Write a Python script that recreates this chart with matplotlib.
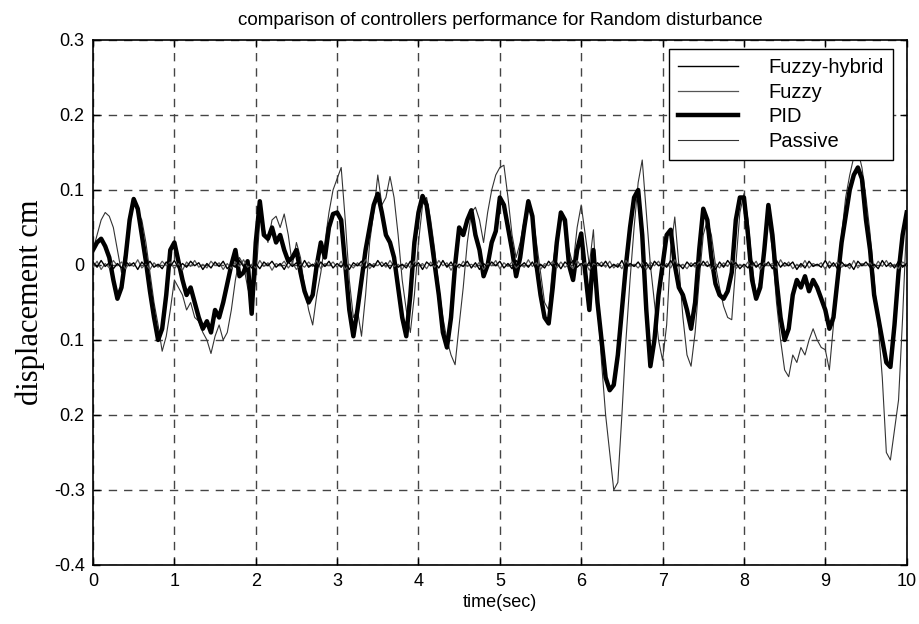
import matplotlib
matplotlib.use('Agg')
import matplotlib.pyplot as plt
import numpy as np

# sample times (s), one every 0.05 s
time = np.linspace(0, 10, 201)

pid = [
    0.02, 0.03, 0.035, 0.025, 0.01, -0.02, -0.045, -0.03, 0.01, 0.06,
    0.088, 0.075, 0.04, 0.005, -0.035, -0.07, -0.1, -0.085, -0.04, 0.02,
    0.03, 0.005, -0.02, -0.04, -0.03, -0.05, -0.07, -0.085, -0.075, -0.09,
    -0.06, -0.07, -0.05, -0.025, 0.0, 0.02, -0.015, -0.01, 0.005, -0.065,
    0.03, 0.085, 0.04, 0.035, 0.05, 0.03, 0.04, 0.02, 0.005, 0.01,
    0.02, -0.01, -0.035, -0.05, -0.04, 0.0, 0.03, 0.01, 0.05, 0.068,
    0.07, 0.06, 0.0, -0.06, -0.095, -0.06, -0.02, 0.02, 0.05, 0.08,
    0.095, 0.07, 0.04, 0.03, 0.01, -0.03, -0.07, -0.095, -0.04, 0.03,
    0.07, 0.092, 0.08, 0.04, 0.0, -0.04, -0.09, -0.11, -0.07, 0.0,
    0.05, 0.04, 0.06, 0.073, 0.04, 0.02, -0.015, 0.0, 0.03, 0.045,
    0.09, 0.08, 0.05, 0.02, -0.015, 0.01, 0.05, 0.085, 0.065, 0.0,
    -0.04, -0.07, -0.078, -0.03, 0.03, 0.07, 0.06, 0.0, -0.02, 0.02,
    0.042, -0.01, -0.06, 0.02, -0.05, -0.1, -0.15, -0.167, -0.16, -0.12,
    -0.06, 0.0, 0.05, 0.09, 0.1, 0.04, -0.06, -0.135, -0.1, -0.04,
    0.0, 0.04, 0.047, 0.0, -0.03, -0.04, -0.06, -0.085, -0.05, 0.02,
    0.075, 0.06, 0.01, -0.025, -0.04, -0.045, -0.035, -0.01, 0.06, 0.09,
    0.09, 0.04, -0.02, -0.045, -0.03, 0.02, 0.08, 0.04, -0.02, -0.07,
    -0.1, -0.085, -0.04, -0.02, -0.03, -0.015, -0.035, -0.02, -0.03, -0.045,
    -0.06, -0.085, -0.07, -0.02, 0.03, 0.065, 0.1, 0.12, 0.13, 0.115,
    0.06, 0.02, -0.04, -0.07, -0.1, -0.13, -0.136, -0.08, -0.01, 0.04,
    0.07,
]

passive = [
    0.02, 0.04, 0.06, 0.07, 0.065, 0.05, 0.02, -0.01, 0.02, 0.05,
    0.085, 0.07, 0.06, 0.03, -0.01, -0.05, -0.08, -0.115, -0.095, -0.06,
    -0.02, -0.03, -0.04, -0.06, -0.05, -0.07, -0.075, -0.09, -0.1, -0.118,
    -0.095, -0.08, -0.1, -0.09, -0.06, -0.02, 0.01, 0.0, -0.03, -0.05,
    -0.02, 0.06, 0.05, 0.03, 0.06, 0.065, 0.05, 0.068, 0.04, 0.0,
    0.03, 0.01, -0.03, -0.06, -0.08, -0.04, -0.01, 0.03, 0.07, 0.1,
    0.115, 0.13, 0.06, -0.02, -0.07, -0.06, -0.095, -0.04, 0.03, 0.07,
    0.12, 0.08, 0.09, 0.118, 0.09, 0.04, -0.02, -0.06, -0.09, -0.04,
    0.03, 0.08, 0.09, 0.06, 0.02, -0.03, -0.07, -0.1, -0.12, -0.133,
    -0.08, -0.03, 0.03, 0.07, 0.077, 0.06, 0.03, 0.07, 0.1, 0.12,
    0.13, 0.133, 0.09, 0.04, 0.01, 0.03, 0.06, 0.087, 0.07, 0.03,
    -0.01, -0.05, -0.06, 0.0, 0.04, 0.07, 0.05, 0.02, 0.0, 0.05,
    0.08, 0.04, 0.0, 0.047, -0.05, -0.13, -0.2, -0.25, -0.3, -0.29,
    -0.2, -0.1, -0.02, 0.05, 0.11, 0.14, 0.07, 0.0, -0.05, -0.1,
    -0.127, -0.08, 0.02, 0.064, 0.0, -0.07, -0.12, -0.135, -0.09, -0.02,
    0.04, 0.06, 0.04, 0.0, -0.03, -0.055, -0.07, -0.073, 0.0, 0.07,
    0.095, 0.06, 0.0, -0.04, -0.02, 0.03, 0.06, 0.02, -0.05, -0.1,
    -0.14, -0.149, -0.12, -0.13, -0.11, -0.12, -0.1, -0.085, -0.1, -0.11,
    -0.113, -0.14, -0.08, -0.02, 0.04, 0.09, 0.12, 0.144, 0.153, 0.13,
    0.09, 0.042, -0.02, -0.08, -0.15, -0.25, -0.26, -0.22, -0.18, -0.07,
    0.06,
]

fuzzy_hybrid = [
    0.004, -0.003, 0.006, -0.002, 0.003, -0.005, 0.002, -0.004, 0.005, -0.001,
    0.003, -0.006, 0.004, -0.002, 0.005, -0.003, 0.001, -0.005, 0.004, -0.002,
    0.006, -0.004, 0.002, -0.003, 0.005, -0.001, 0.003, -0.006, 0.002, -0.004,
    0.004, -0.002, 0.005, -0.005, 0.001, -0.003, 0.006, -0.002, 0.003, -0.004,
    0.002, -0.005, 0.004, -0.001, 0.005, -0.003, 0.002, -0.006, 0.004, -0.002,
    0.003, -0.004, 0.006, -0.003, 0.001, -0.005, 0.004, -0.002, 0.005, -0.004,
    0.002, -0.003, 0.004, -0.006, 0.003, -0.001, 0.005, -0.004, 0.002, -0.003,
    0.006, -0.002, 0.003, -0.005, 0.004, -0.003, 0.001, -0.004, 0.005, -0.002,
    0.003, -0.006, 0.004, -0.001, 0.002, -0.004, 0.006, -0.003, 0.004, -0.005,
    0.001, -0.002, 0.005, -0.004, 0.003, -0.006, 0.002, -0.003, 0.004, -0.001,
    0.005, -0.004, 0.002, -0.005, 0.006, -0.002, 0.003, -0.003, 0.004, -0.006,
    0.001, -0.004, 0.005, -0.002, 0.003, -0.005, 0.004, -0.001, 0.006, -0.003,
    0.002, -0.004, 0.004, -0.006, 0.003, -0.002, 0.005, -0.004, 0.001, -0.003,
    0.006, -0.005, 0.002, -0.002, 0.004, -0.004, 0.003, -0.006, 0.005, -0.001,
    0.002, -0.003, 0.006, -0.004, 0.001, -0.005, 0.004, -0.002, 0.003, -0.004,
    0.005, -0.002, 0.002, -0.006, 0.004, -0.003, 0.006, -0.001, 0.003, -0.005,
    0.001, -0.004, 0.005, -0.003, 0.002, -0.002, 0.004, -0.005, 0.006, -0.003,
    0.003, -0.001, 0.004, -0.006, 0.002, -0.004, 0.005, -0.002, 0.001, -0.003,
    0.006, -0.004, 0.003, -0.005, 0.004, -0.002, 0.002, -0.006, 0.005, -0.001,
    0.004, -0.003, 0.001, -0.005, 0.006, -0.002, 0.003, -0.004, 0.005, -0.003,
    0.002,
]

fuzzy = [
    -0.003, 0.005, -0.006, 0.002, -0.004, 0.006, -0.001, 0.004, -0.005, 0.003,
    -0.002, 0.007, -0.004, 0.001, -0.006, 0.003, -0.003, 0.005, -0.001, 0.004,
    -0.005, 0.002, -0.007, 0.004, -0.002, 0.006, -0.003, 0.001, -0.004, 0.005,
    -0.001, 0.003, -0.006, 0.002, -0.005, 0.004, -0.002, 0.007, -0.003, 0.001,
    -0.004, 0.006, -0.002, 0.003, -0.007, 0.002, -0.001, 0.005, -0.004, 0.003,
    -0.006, 0.001, -0.003, 0.004, -0.002, 0.006, -0.005, 0.002, -0.001, 0.004,
    -0.003, 0.005, -0.006, 0.001, -0.004, 0.003, -0.002, 0.007, -0.005, 0.002,
    -0.001, 0.004, -0.003, 0.006, -0.002, 0.001, -0.006, 0.003, -0.004, 0.005,
    -0.002, 0.002, -0.005, 0.004, -0.003, 0.006, -0.001, 0.003, -0.007, 0.002,
    -0.004, 0.005, -0.002, 0.001, -0.003, 0.004, -0.006, 0.002, -0.001, 0.006,
    -0.005, 0.003, -0.002, 0.004, -0.004, 0.001, -0.003, 0.007, -0.002, 0.003,
    -0.006, 0.002, -0.001, 0.005, -0.004, 0.004, -0.003, 0.001, -0.005, 0.006,
    -0.002, 0.003, -0.007, 0.002, -0.001, 0.004, -0.003, 0.005, -0.004, 0.002,
    -0.005, 0.006, -0.002, 0.001, -0.004, 0.003, -0.006, 0.004, -0.001, 0.005,
    -0.003, 0.002, -0.004, 0.007, -0.002, 0.001, -0.005, 0.003, -0.003, 0.004,
    -0.001, 0.005, -0.006, 0.002, -0.004, 0.003, -0.002, 0.006, -0.005, 0.001,
    -0.003, 0.004, -0.002, 0.005, -0.006, 0.003, -0.001, 0.002, -0.004, 0.007,
    -0.002, 0.004, -0.005, 0.001, -0.003, 0.006, -0.004, 0.002, -0.001, 0.003,
    -0.006, 0.005, -0.002, 0.004, -0.003, 0.001, -0.005, 0.006, -0.004, 0.002,
    -0.001, 0.003, -0.004, 0.005, -0.002, 0.006, -0.003, 0.001, -0.005, 0.004,
    0.0,
]

yticks = [-0.4, -0.3, -0.2, -0.1, 0, 0.1, 0.2, 0.3]
# the labels as printed in the original (minus signs lost on -0.1 / -0.2)
ytick_labels = ['-0.4', '-0.3', '0.2', '0.1', '0', '0.1', '0.2', '0.3']
xticks = list(range(0, 11))

plt.rcParams['font.family'] = ['Liberation Sans', 'DejaVu Sans']

fig = plt.figure(figsize=(9.19, 6.24), dpi=100)
ax = fig.add_axes([0.1012, 0.0946, 0.8854, 0.8413])

ax.plot(time, passive, color='#333333', linewidth=0.8, label='Passive', zorder=2)
ax.plot(time, pid, color='black', linewidth=3.2, label='PID', zorder=3)
ax.plot(time, fuzzy, color='#555555', linewidth=0.9, label='Fuzzy', zorder=4)
ax.plot(time, fuzzy_hybrid, color='black', linewidth=1.0, label='Fuzzy-hybrid', zorder=5)

ax.set_xlim(0, 10)
ax.set_ylim(-0.4, 0.3)
ax.set_xticks(xticks)
ax.set_xticklabels([str(v) for v in xticks])
ax.set_yticks(yticks)
ax.set_yticklabels(ytick_labels)
ax.tick_params(direction='in', length=5, top=True, right=True, labelsize=13, pad=6, width=1)
ax.grid(True, color='#444444', linestyle=(0, (6, 5)), linewidth=1)
for s in ax.spines.values():
    s.set_linewidth(1.2)

ax.set_title('comparison of controllers performance for Random disturbance', fontsize=13.5, pad=11)
ax.set_xlabel('time(sec)', fontsize=13, labelpad=3)
ax.set_ylabel('displacement cm', fontsize=22, family=['Liberation Serif', 'DejaVu Serif'], labelpad=6)

h, l = ax.get_legend_handles_labels()
order = [3, 2, 1, 0]
leg = ax.legend([h[i] for i in order], [l[i] for i in order], loc='upper right',
                bbox_to_anchor=(0.983, 0.983), borderaxespad=0, fancybox=False,
                edgecolor='black', fontsize=14.5, handlelength=3.0, handletextpad=1.5,
                labelspacing=0.28, borderpad=0.45, framealpha=1)
leg.get_frame().set_linewidth(1.0)

plt.savefig('out.png', dpi=100)
plt.close()
